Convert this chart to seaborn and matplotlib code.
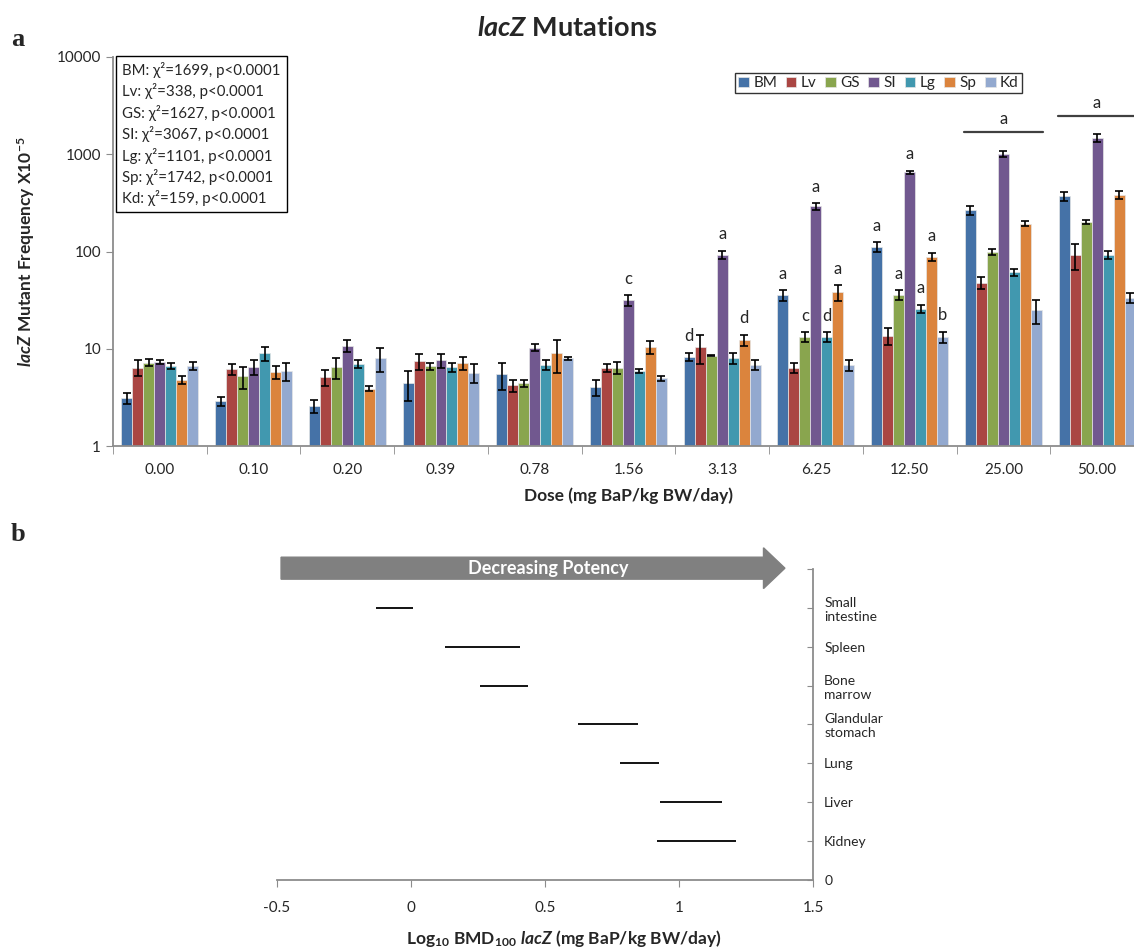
import numpy as np
import pandas as pd
import matplotlib
matplotlib.use("Agg")
import matplotlib.pyplot as plt
import seaborn as sns

# dose groups and tissues
doses = ["0.00", "0.10", "0.20", "0.39", "0.78", "1.56", "3.13", "6.25", "12.50", "25.00", "50.00"]
tissues = ["BM", "Lv", "GS", "SI", "Lg", "Sp", "Kd"]
colors = ["#4572A7", "#AA4643", "#89A54E", "#71588F", "#4198AF", "#DB843D", "#93A9CF"]

# mutant frequency (x10^-5) and error per tissue
BM = [3.1, 2.9, 2.6, 4.4, 5.5, 4.0, 8.3, 35.5, 112, 265, 370]
BM_err = [0.4, 0.3, 0.4, 1.5, 1.7, 0.75, 0.8, 4.3, 12, 30, 40]
Lv = [6.4, 6.2, 5.1, 7.4, 4.2, 6.4, 10.4, 6.4, 13.6, 48, 92]
Lv_err = [1.2, 0.8, 1.0, 1.4, 0.6, 0.6, 3.5, 0.7, 2.7, 7, 27]
GS = [7.2, 5.2, 6.5, 6.6, 4.4, 6.4, 8.5, 13.2, 36, 99, 202]
GS_err = [0.6, 1.3, 1.6, 0.6, 0.4, 0.9, 0.15, 1.6, 4, 7, 8]
SI = [7.3, 6.5, 10.8, 7.6, 10.3, 31.5, 93, 293, 650, 1010, 1480]
SI_err = [0.4, 1.1, 1.5, 1.2, 0.9, 3.9, 9, 23, 30, 70, 130]
Lg = [6.7, 9.0, 7.0, 6.5, 6.8, 5.9, 8.0, 13.2, 25.8, 61, 93]
Lg_err = [0.5, 1.5, 0.7, 0.7, 0.8, 0.3, 1.1, 1.5, 2.5, 5.5, 9]
Sp = [4.8, 5.8, 3.9, 7.2, 9.0, 10.4, 12.3, 38, 88, 193, 380]
Sp_err = [0.5, 0.9, 0.2, 1.1, 3.4, 1.6, 1.7, 7, 9, 12, 35]
Kd = [6.7, 5.9, 8.0, 5.7, 8.0, 5.0, 6.8, 6.8, 13.2, 25, 33.5]
Kd_err = [0.6, 1.2, 2.2, 1.3, 0.3, 0.3, 0.8, 0.9, 1.8, 7, 4]

chi_text = ["BM: χ²=1699, p<0.0001", "Lv: χ²=338, p<0.0001", "GS: χ²=1627, p<0.0001",
            "SI: χ²=3067, p<0.0001", "Lg: χ²=1101, p<0.0001", "Sp: χ²=1742, p<0.0001",
            "Kd: χ²=159, p<0.0001"]

# significance letters: (dose index, tissue, letter)
letters = [(5, "SI", "c"), (6, "BM", "d"), (6, "SI", "a"), (6, "Sp", "d"),
           (7, "BM", "a"), (7, "GS", "c"), (7, "SI", "a"), (7, "Lg", "d"), (7, "Sp", "a"),
           (8, "BM", "a"), (8, "GS", "a"), (8, "SI", "a"), (8, "Lg", "a"), (8, "Sp", "a"),
           (8, "Kd", "b")]
bracket_groups = [9, 10]
bracket_levels = [1700, 2460]

# panel b: log10 BMD100 intervals
organs = ["Small\nintestine", "Spleen", "Bone\nmarrow", "Glandular\nstomach", "Lung", "Liver", "Kidney"]
bmd_low = [-0.13, 0.127, 0.257, 0.624, 0.778, 0.927, 0.919]
bmd_high = [0.007, 0.405, 0.438, 0.846, 0.924, 1.162, 1.211]

values = {"BM": BM, "Lv": Lv, "GS": GS, "SI": SI, "Lg": Lg, "Sp": Sp, "Kd": Kd}
errors = {"BM": BM_err, "Lv": Lv_err, "GS": GS_err, "SI": SI_err, "Lg": Lg_err, "Sp": Sp_err, "Kd": Kd_err}

rows = []
for t in tissues:
    for d, v in zip(doses, values[t]):
        rows.append({"dose": d, "tissue": t, "mf": v})
df = pd.DataFrame(rows)

sns.set_style("white")
plt.rcParams["font.family"] = ["Lato", "DejaVu Sans"]
plt.rcParams["mathtext.fontset"] = "custom"
plt.rcParams["mathtext.rm"] = "Lato:bold"
plt.rcParams["mathtext.bf"] = "Lato:bold"
plt.rcParams["mathtext.it"] = "Lato:bold:italic"

fig = plt.figure(figsize=(11.34, 9.5), dpi=100)
axis_grey = "#8c8c8c"

# ---- panel a
ax = fig.add_axes([0.0996, 0.5305, 0.9092, 0.4095])
sns.barplot(data=df, x="dose", y="mf", hue="tissue", order=doses, hue_order=tissues,
            palette=dict(zip(tissues, colors)), saturation=1, errorbar=None, width=0.82,
            edgecolor="#e6e6e6", linewidth=0.5, ax=ax)
ax.set_yscale("log")
ax.set_ylim(1, 10000)
ax.set_xlim(-0.5, 10.5)

bar_x = {}
for i, t in enumerate(tissues):
    bars = ax.containers[i]
    xs = [b.get_x() + b.get_width() / 2 for b in bars]
    bar_x[t] = xs
    ax.errorbar(xs, values[t], yerr=errors[t], fmt="none", ecolor="black",
                elinewidth=1.2, capsize=3, capthick=1.2, zorder=5)

for gi, t, lt in letters:
    top = values[t][gi] + errors[t][gi]
    ax.text(bar_x[t][gi], top * 1.22, lt, ha="center", va="bottom", fontsize=12)

for gi, lvl in zip(bracket_groups, bracket_levels):
    ax.plot([gi - 0.42, gi + 0.42], [lvl, lvl], color="#404040", lw=1.6, clip_on=False)
    ax.text(gi, lvl * 1.12, "a", ha="center", va="bottom", fontsize=12)

ax.text(0.009, 0.988, "\n".join(chi_text), transform=ax.transAxes, ha="left", va="top",
        fontsize=10.8, linespacing=1.42,
        bbox=dict(boxstyle="square,pad=0.4", fc="white", ec="black", lw=1))

ax.yaxis.set_major_formatter(matplotlib.ticker.FuncFormatter(lambda v, _: f"{v:g}"))
ax.yaxis.set_minor_locator(matplotlib.ticker.NullLocator())
ax.set_xticks(np.arange(-0.5, 11, 1), minor=True)
ax.tick_params(axis="x", which="major", length=0, labelsize=11, pad=12)
ax.tick_params(axis="x", which="minor", length=6, color=axis_grey, direction="out", bottom=True)
ax.tick_params(axis="y", which="major", length=5, color=axis_grey, direction="out", left=True, labelsize=11)
for s in ["top", "right"]:
    ax.spines[s].set_visible(False)
for s in ["left", "bottom"]:
    ax.spines[s].set_color(axis_grey)
    ax.spines[s].set_linewidth(1.3)
ax.set_xlabel("Dose (mg BaP/kg BW/day)", fontsize=12.5, fontweight="bold", labelpad=8)
ax.set_ylabel(r"$\mathit{lacZ}$ Mutant Frequency X10$^{-5}$", fontsize=12.5, fontweight="bold", labelpad=14)

sns.move_legend(ax, "upper right", bbox_to_anchor=(0.889, 0.978), ncol=7, title=None,
                frameon=True, fontsize=11, handlelength=0.7, handleheight=0.7,
                handletextpad=0.3, columnspacing=0.55, borderpad=0.2, fancybox=False,
                edgecolor="black")
ax.get_legend().get_frame().set_linewidth(1)

fig.text(0.5, 0.9705, r"$\mathit{lacZ}$ Mutations", ha="center", va="center", fontsize=19.5, fontweight="bold")
fig.text(0.016, 0.958, "a", ha="center", va="center", fontsize=19, fontweight="bold", family="Liberation Serif")
fig.text(0.016, 0.437, "b", ha="center", va="center", fontsize=19, fontweight="bold", family="Liberation Serif")

# ---- panel b
bx = fig.add_axes([0.2443, 0.0737, 0.4727, 0.3274])
ypos = np.arange(len(organs), 0, -1)
bx.hlines(ypos, bmd_low, bmd_high, color="black", lw=1.3)
bx.set_xlim(-0.5, 1.5)
bx.set_ylim(0, 8)
bx.set_xticks([-0.5, 0, 0.5, 1, 1.5])
bx.set_xticklabels(["-0.5", "0", "0.5", "1", "1.5"])
bx.yaxis.tick_right()
bx.set_yticks(list(ypos) + [0, 8])
bx.set_yticklabels(organs + ["0", ""], ha="left")
bx.tick_params(axis="x", length=5, direction="out", color=axis_grey, labelsize=11, pad=10, bottom=True)
bx.tick_params(axis="y", length=4, direction="in", color=axis_grey, labelsize=10, pad=8, right=True, left=False)
for s in ["top", "left"]:
    bx.spines[s].set_visible(False)
for s in ["right", "bottom"]:
    bx.spines[s].set_color(axis_grey)
    bx.spines[s].set_linewidth(1.3)

bx.arrow(-0.485, 8.02, 1.88, 0, width=0.565, head_width=1.05, head_length=0.08,
         length_includes_head=True, color="#808080", clip_on=False, zorder=3)
bx.text(0.511, 8.02, "Decreasing Potency", color="white", fontsize=13, fontweight="bold",
        ha="center", va="center", clip_on=False, zorder=4)

fig.text(0.497, 0.0126, r"Log$_{10}$ BMD$_{100}$ $\mathit{lacZ}$ (mg BaP/kg BW/day)",
         ha="center", va="center", fontsize=12.5, fontweight="bold")

fig.savefig("out.png", dpi=100)
